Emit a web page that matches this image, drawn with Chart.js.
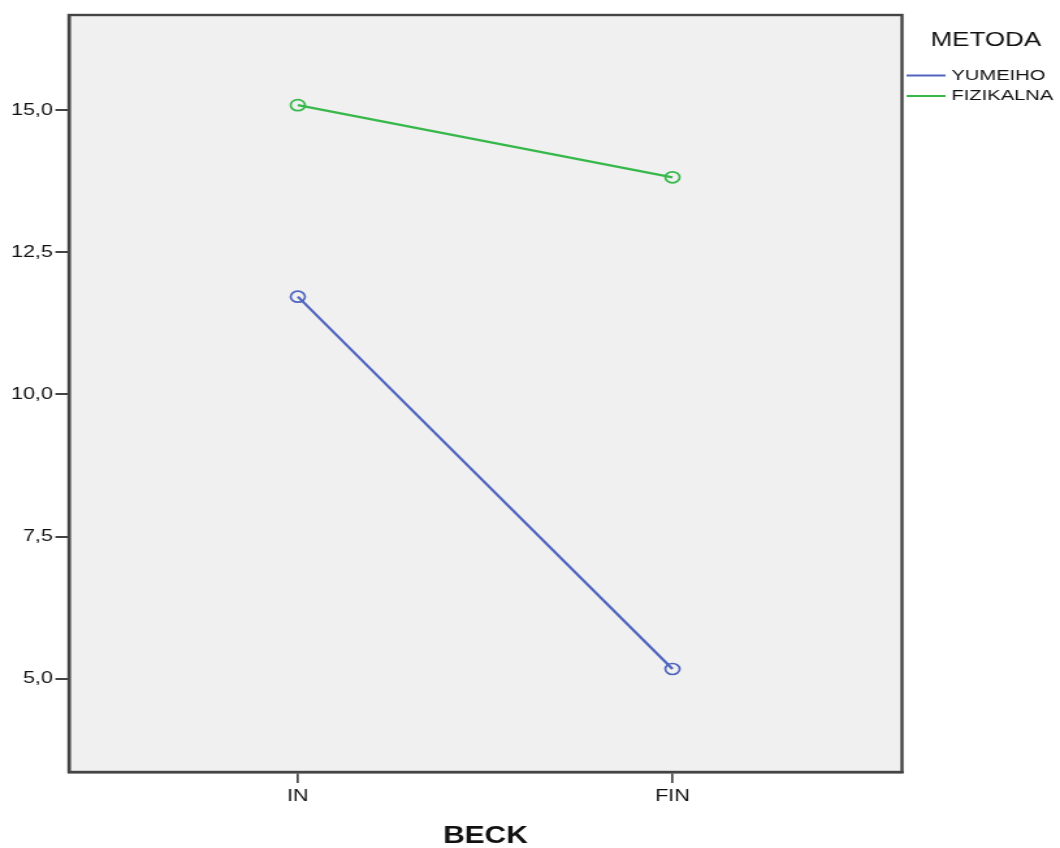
<!DOCTYPE html>
<html>
<head>
<meta charset="utf-8">
<script src="https://cdn.jsdelivr.net/npm/chart.js@4.4.1/dist/chart.umd.min.js"></script>
<style>
  html, body { margin: 0; padding: 0; background: #fff; overflow: hidden; }
  /* the reference is stretched sideways, so the canvas is drawn narrow and scaled */
  #wrap { width: 815px; height: 848px; transform: scaleX(1.3006); transform-origin: 0 0; }
</style>
</head>
<body>
<div id="wrap"><canvas id="chart" width="815" height="848"></canvas></div>
<script>
// data
const categories = ['IN', 'FIN'];
const yumeiho    = [11.72, 5.17];
const fizikalna  = [15.09, 13.82];
const yTicks     = [5, 7.5, 10, 12.5, 15];

const C = {
  blue:  '#4f64bf',
  green: '#37b84a',
  plot:  '#f0f0f0',
  frame: '#444444',
  text:  '#111111',
};
const FONT = "'Liberation Sans', Arial, sans-serif";

const plotBox = {
  id: 'plotBox',
  beforeDraw(chart) {
    const { ctx, chartArea: a } = chart;
    ctx.save();
    ctx.fillStyle = C.plot;
    ctx.fillRect(a.left, a.top, a.right - a.left, a.bottom - a.top);
    ctx.restore();
  },
  afterDraw(chart) {
    const { ctx, chartArea: a } = chart;
    ctx.save();
    ctx.strokeStyle = C.frame;
    ctx.lineWidth = 2.4;
    ctx.strokeRect(a.left, a.top, a.right - a.left, a.bottom - a.top);

    // legend on the right
    ctx.fillStyle = C.text;
    ctx.textBaseline = 'middle';
    ctx.textAlign = 'center';
    ctx.font = `20px ${FONT}`;
    ctx.fillText('METODA', 758, 40);
    ctx.textAlign = 'left';
    ctx.font = `15.5px ${FONT}`;
    const rows = [75.5, 96];
    chart.data.datasets.forEach((ds, i) => {
      ctx.strokeStyle = ds.borderColor;
      ctx.lineWidth = 2;
      ctx.beginPath();
      ctx.moveTo(697, rows[i]);
      ctx.lineTo(727, rows[i]);
      ctx.stroke();
      ctx.fillStyle = C.text;
      ctx.fillText(ds.label, 731.5, rows[i]);
    });
    ctx.restore();
  }
};

new Chart(document.getElementById('chart'), {
  type: 'line',
  data: {
    datasets: [
      {
        label: 'YUMEIHO',
        data: yumeiho.map((v, i) => ({ x: i, y: v })),
        borderColor: C.blue,
        backgroundColor: 'rgba(0,0,0,0)',
        borderWidth: 2.2,
        pointRadius: 5.5,
        pointBorderWidth: 1.7,
        pointBorderColor: C.blue,
        pointBackgroundColor: 'rgba(0,0,0,0)',
      },
      {
        label: 'FIZIKALNA',
        data: fizikalna.map((v, i) => ({ x: i, y: v })),
        borderColor: C.green,
        backgroundColor: 'rgba(0,0,0,0)',
        borderWidth: 2.2,
        pointRadius: 5.5,
        pointBorderWidth: 1.7,
        pointBorderColor: C.green,
        pointBackgroundColor: 'rgba(0,0,0,0)',
      }
    ]
  },
  options: {
    responsive: false,
    animation: false,
    devicePixelRatio: 1,
    layout: { padding: { left: 0, right: 121.5, top: 15, bottom: 0 } },
    plugins: {
      legend: { display: false },
      tooltip: { enabled: false },
    },
    scales: {
      x: {
        type: 'linear',
        min: -0.611,
        max: 1.6125,
        afterBuildTicks: s => { s.ticks = categories.map((_, i) => ({ value: i })); },
        afterFit: s => { s.height = 76; },
        grid: { drawOnChartArea: false, drawTicks: true, tickLength: 11, color: C.frame, lineWidth: 1.7 },
        border: { display: true, color: C.frame, width: 2.4 },
        ticks: {
          callback: v => categories[v],
          color: C.text,
          font: { family: FONT, size: 16.5 },
          padding: 4,
          maxRotation: 0,
        },
        title: {
          display: true,
          text: 'BECK',
          color: C.text,
          font: { family: FONT, size: 23, weight: 'bold', lineHeight: 1 },
          padding: 0,
        }
      },
      y: {
        min: 3.358,
        max: 16.676,
        afterBuildTicks: s => { s.ticks = yTicks.map(v => ({ value: v })); },
        afterFit: s => { s.width = 53; },
        grid: { drawOnChartArea: false, drawTicks: true, tickLength: 10.4, color: C.frame, lineWidth: 2 },
        border: { display: true, color: C.frame, width: 2.4 },
        ticks: {
          callback: v => v.toFixed(1).replace('.', ','),
          color: C.text,
          font: { family: FONT, size: 16.5 },
          padding: 2,
        }
      }
    }
  },
  plugins: [plotBox]
});
</script>
</body>
</html>
